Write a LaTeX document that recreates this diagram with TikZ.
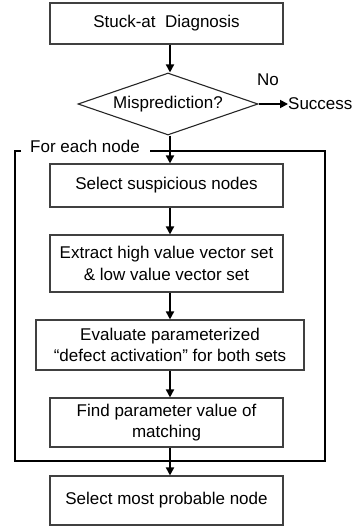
\documentclass[tikz,border=0pt]{standalone}
\usepackage{fontspec}
\setmainfont{Liberation Sans}
\usetikzlibrary{shapes.geometric,arrows.meta}
\begin{document}
\begin{tikzpicture}[x=1pt,y=-1pt,
  every node/.style={font=\fontsize{17}{21.5}\selectfont, text=black},
  stepbox/.style={draw=black!75, line width=1.1pt, inner sep=0pt, align=center,
    minimum width=233pt},
  decide/.style={draw=black!85, line width=1.1pt, diamond, aspect=2.9, inner sep=0pt,
    minimum width=180pt, minimum height=62pt},
  flow/.style={line width=1.7pt, -{Triangle[length=8pt,width=8pt]}},
  loopline/.style={line width=1.1pt, draw=black}]
\useasboundingbox (0,0) rectangle (352,529);

% main flow
\node[stepbox, minimum height=41pt] (diag) at (166.5,23.5) {Stuck-at\ \ Diagnosis};
\node[decide] (mis) at (168,104) {Misprediction?};
\node[stepbox, minimum height=43pt] (sel) at (166.5,185.5) {Select suspicious nodes};
\node[stepbox, minimum height=57pt] (ext) at (166.5,263.5) {Extract high value vector set\\\& low value vector set};
\node[stepbox, minimum width=268pt, minimum height=50pt] (eva) at (170,345) {Evaluate parameterized\\“defect activation” for both sets};
\node[stepbox, minimum height=49pt] (fin) at (166.5,422.5) {Find parameter value of\\matching};
\node[stepbox, minimum height=49pt] (mpn) at (166.5,500.5) {Select most probable node};

% exit branch
\node[anchor=west, inner sep=0pt] (suc) at (288,104) {Success};
\node[inner sep=0pt] (no) at (268,80) {No};
\draw[flow] (mis.east) -- (suc.west);

% per-node loop frame
\node[anchor=west, inner sep=0pt] (fe) at (30,146) {For each node};
\draw[loopline] (21,151) -- (15,151) -- (15,461) -- (325,461) -- (325,151) -- (150,151);

% vertical connectors on the common axis
\coordinate (ax) at (170,0);
\draw[flow] (diag.south -| ax) -- (mis.north -| ax);
\draw[flow] (mis.south -| ax) -- (sel.north -| ax);
\draw[flow] (sel.south -| ax) -- (ext.north -| ax);
\draw[flow] (ext.south -| ax) -- (eva.north -| ax);
\draw[flow] (eva.south -| ax) -- (fin.north -| ax);
\draw[flow] (fin.south -| ax) -- (mpn.north -| ax);
\end{tikzpicture}
\end{document}
